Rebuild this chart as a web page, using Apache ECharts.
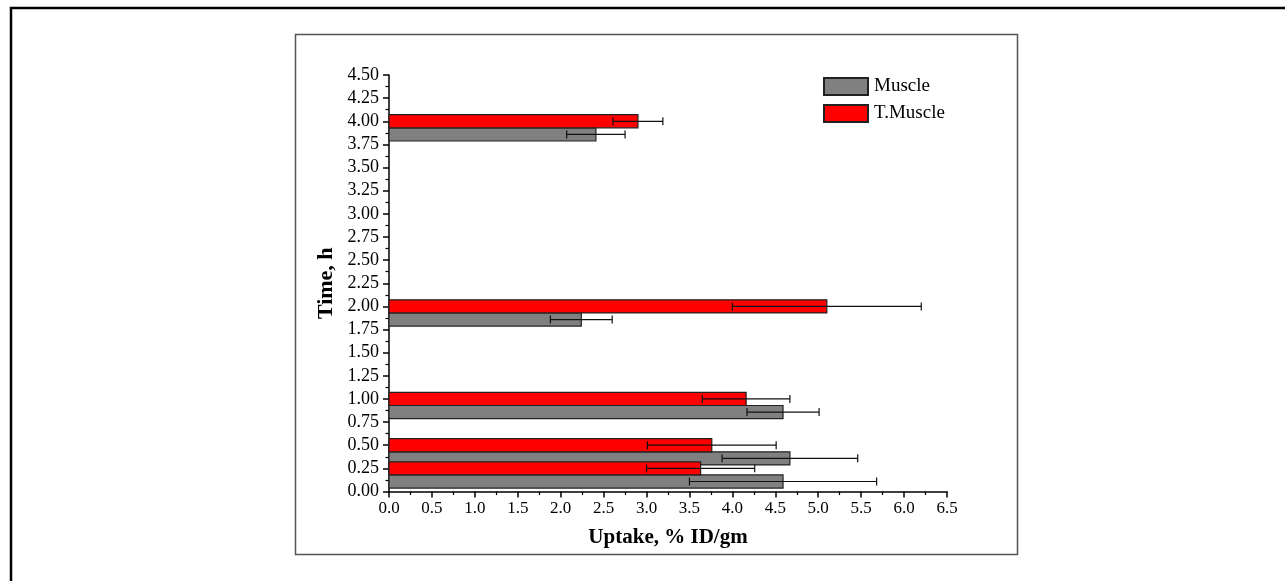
<!DOCTYPE html>
<html>
<head>
<meta charset="utf-8">
<script src="https://cdn.jsdelivr.net/npm/echarts@6/dist/echarts.min.js"></script>
<style>
html,body{margin:0;padding:0;background:#fff;}
#chart{width:1285px;height:581px;}
</style>
</head>
<body>
<div id="chart"></div>
<script>
// Time points (h)
const times = [0.25, 0.5, 1, 2, 4];
// Muscle uptake (% ID/gm) and SD
const muscle = [4.59, 4.67, 4.59, 2.24, 2.41];
const muscleErr = [1.09, 0.79, 0.42, 0.36, 0.34];
// T.Muscle uptake and SD
const tMuscle = [3.63, 3.76, 4.16, 5.10, 2.90];
const tMuscleErr = [0.63, 0.75, 0.51, 1.10, 0.29];
const seriesNames = ['Muscle', 'T.Muscle'];
const xTicks = {min: 0, max: 6.5, step: 0.5};
const yTicks = {min: 0, max: 4.5, step: 0.25};

const FONT = '"Liberation Serif", "Times New Roman", serif';
const BAR_H = 0.142; // bar thickness in time units

function makeData(vals, errs) {
  return times.map((t, i) => [vals[i], t, errs[i]]);
}

function renderer(shiftBars) {
  return function (params, api) {
    const v = api.value(0), t = api.value(1), e = api.value(2);
    const tc = t - shiftBars * BAR_H;
    const h = api.size([0, BAR_H])[1];
    const p0 = api.coord([0, tc]);
    const p1 = api.coord([v, tc]);
    const pl = api.coord([v - e, tc]);
    const pr = api.coord([v + e, tc]);
    const style = api.style();
    const cap = 4;
    return {
      type: 'group',
      children: [
        {type: 'rect', shape: {x: p0[0], y: p0[1] - h / 2, width: p1[0] - p0[0], height: h},
         style: {fill: style.fill, stroke: '#222', lineWidth: 1.2}},
        {type: 'line', shape: {x1: pl[0], y1: pl[1], x2: pr[0], y2: pr[1]}, style: {stroke: '#111', lineWidth: 1.2}},
        {type: 'line', shape: {x1: pl[0], y1: pl[1] - cap, x2: pl[0], y2: pl[1] + cap}, style: {stroke: '#111', lineWidth: 1.2}},
        {type: 'line', shape: {x1: pr[0], y1: pr[1] - cap, x2: pr[0], y2: pr[1] + cap}, style: {stroke: '#111', lineWidth: 1.2}}
      ]
    };
  };
}

const chart = echarts.init(document.getElementById('chart'), null, {renderer: 'canvas'});
chart.setOption({
  animation: false,
  backgroundColor: '#fff',
  graphic: [
    {type: 'polyline', shape: {points: [[11, 581], [11, 8], [1285, 8]]}, style: {stroke: '#000', lineWidth: 2.5, fill: null}},
    {type: 'rect', shape: {x: 295.5, y: 34.5, width: 722, height: 520}, style: {stroke: '#555', lineWidth: 1.5, fill: null}}
  ],
  grid: {left: 389, right: 338, top: 75, bottom: 89.5},
  legend: {
    orient: 'vertical', left: 823, top: 77, padding: 0, itemWidth: 44, itemHeight: 17, itemGap: 8,
    icon: 'rect',
    textStyle: {fontFamily: FONT, fontSize: 19, color: '#000', padding: [0, 0, 0, 1]},
    data: seriesNames
  },
  xAxis: {
    type: 'value', min: xTicks.min, max: xTicks.max, interval: xTicks.step,
    name: 'Uptake, % ID/gm', nameLocation: 'middle', nameGap: 36,
    nameTextStyle: {fontFamily: FONT, fontSize: 21, fontWeight: 'bold', color: '#000'},
    axisLine: {show: true, lineStyle: {color: '#000', width: 1.5}},
    axisTick: {show: true, inside: false, length: 6, lineStyle: {color: '#000', width: 1.5}},
    minorTick: {show: true, splitNumber: 2, length: 3.5, lineStyle: {color: '#000', width: 1.2}},
    axisLabel: {fontFamily: FONT, fontSize: 17, color: '#000', margin: 9, formatter: v => v.toFixed(1)},
    splitLine: {show: false}
  },
  yAxis: {
    type: 'value', min: yTicks.min, max: yTicks.max, interval: yTicks.step,
    name: 'Time, h', nameLocation: 'middle', nameGap: 52, nameRotate: 90,
    nameTextStyle: {fontFamily: FONT, fontSize: 22, fontWeight: 'bold', color: '#000'},
    axisLine: {show: true, onZero: false, lineStyle: {color: '#000', width: 1.5}},
    axisTick: {show: true, inside: false, length: 6, lineStyle: {color: '#000', width: 1.5}},
    minorTick: {show: true, splitNumber: 2, length: 3.5, lineStyle: {color: '#000', width: 1.2}},
    axisLabel: {fontFamily: FONT, fontSize: 18, color: '#000', margin: 10, formatter: v => v.toFixed(2)},
    splitLine: {show: false}
  },
  series: [
    {name: seriesNames[0], type: 'custom', renderItem: renderer(1), data: makeData(muscle, muscleErr),
     itemStyle: {color: '#808080', borderColor: '#222', borderWidth: 1.2}, encode: {x: [0], y: 1}, clip: false, z: 2},
    {name: seriesNames[1], type: 'custom', renderItem: renderer(0), data: makeData(tMuscle, tMuscleErr),
     itemStyle: {color: '#ff0000', borderColor: '#222', borderWidth: 1.2}, encode: {x: [0], y: 1}, clip: false, z: 3}
  ]
});
</script>
</body>
</html>
